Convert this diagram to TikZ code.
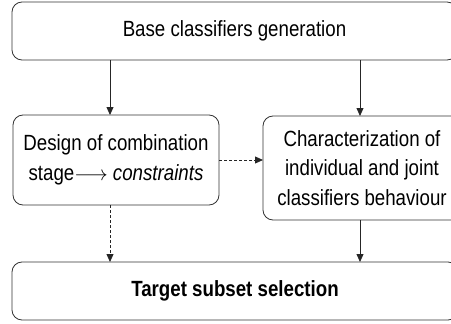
\documentclass[tikz,border=0pt]{standalone}
\usepackage{fontspec}
\setmainfont{Liberation Sans}[FakeStretch=0.85]
\usetikzlibrary{arrows.meta}
\tikzset{
  box/.style={draw=black!80, line width=0.8pt, rounded corners=10pt, align=center,
    inner sep=0pt, outer sep=0pt, font=\fontsize{22}{29.5}\selectfont},
  arr/.style={draw=black!85, line width=0.8pt, -{Triangle[length=8pt,width=7pt]}},
  darr/.style={arr, dash pattern=on 3pt off 2pt}
}
\begin{document}
\begin{tikzpicture}[x=1pt,y=1pt]
\useasboundingbox (0,0) rectangle (451,-324);
\clip (0,0) rectangle (451,-324);
\node[box, minimum width=445pt, minimum height=58pt] (top) at (234.5,-31) {Base classifiers generation};
\node[box, minimum width=206pt, minimum height=90pt] (left) at (116,-160) {Design of combination\\stage$\longrightarrow$ \textit{constraints}};
\node[box, minimum width=198pt, minimum height=104pt] (right) at (362,-168) {Characterization of\\individual and joint\\classifiers behaviour};
\node[box, minimum width=446pt, minimum height=58pt] (bottom) at (235,-291) {\textbf{Target subset selection}};
\coordinate (ca) at (110,0);
\coordinate (cb) at (360,0);
\draw[arr] (ca |- top.south) -- (ca |- left.north);
\draw[arr] (cb |- top.south) -- (cb |- right.north);
\draw[darr] (left.east) -- (left.east -| right.west);
\draw[darr] (ca |- left.south) -- (ca |- bottom.north);
\draw[arr] (cb |- right.south) -- (cb |- bottom.north);
\end{tikzpicture}
\end{document}
